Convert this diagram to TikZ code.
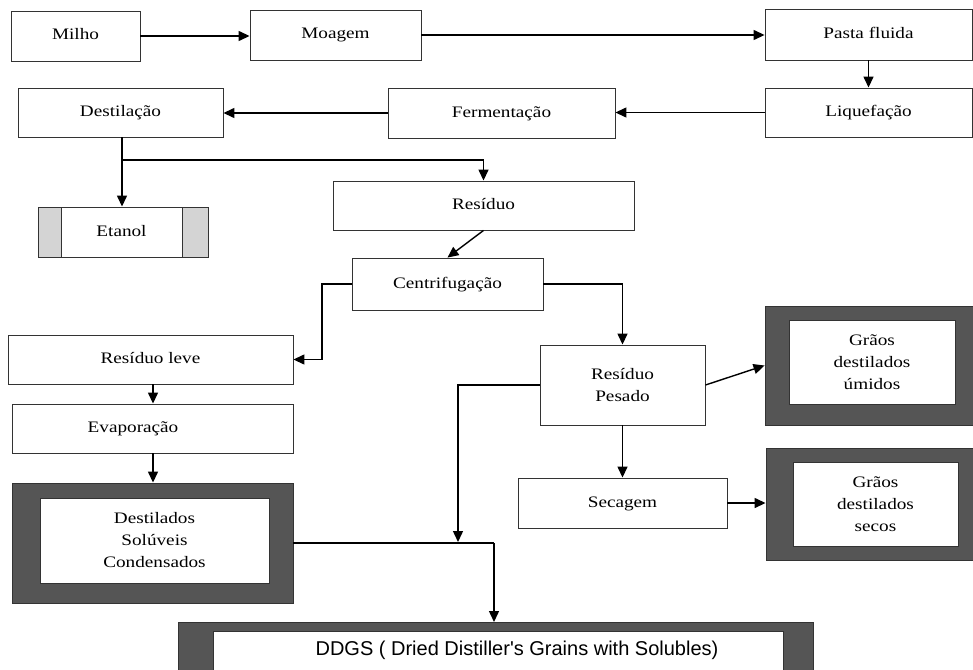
\documentclass[tikz,border=0pt]{standalone}
\usepackage{fontspec}
\setmainfont{Liberation Serif}[FakeStretch=1.2]
\newfontfamily\ddgsfont{Liberation Sans}
\usetikzlibrary{arrows.meta,calc}
\definecolor{darkbox}{HTML}{555555}
\definecolor{lightbox}{HTML}{D4D4D4}
\begin{document}
\begin{tikzpicture}[x=1pt,y=-1pt,
  box/.style={draw=black!80, line width=0.9pt, fill=white, inner sep=0pt, align=center,
    font=\fontsize{16}{22}\selectfont},
  oneline/.style={text height=11pt, text depth=3pt},
  darkframe/.style={draw=black!80, line width=0.9pt, fill=darkbox, inner sep=0pt},
  lightframe/.style={draw=black!80, line width=0.9pt, fill=lightbox, inner sep=0pt},
  arr/.style={line width=1.4pt, -{Triangle[length=11pt,width=10pt]}},
  plain/.style={line width=1.4pt}]
\useasboundingbox (0,0) rectangle (973,669);
\clip (0,0) rectangle (973,669);
\fill[white] (0,0) rectangle (973,669);

% top row
\node[box, oneline, minimum width=129pt, minimum height=50pt] (milho) at (75.5,36) {Milho};
\node[box, oneline, minimum width=171pt, minimum height=50pt] (moagem) at (335.5,35) {Moagem};
\node[box, oneline, minimum width=207pt, minimum height=51pt] (pasta) at (868.5,34.5) {Pasta fluida};
\node[box, oneline, minimum width=207pt, minimum height=49pt] (liq) at (868.5,112.5) {Liquefação};
\node[box, oneline, minimum width=227pt, minimum height=50pt] (ferm) at (501.5,113) {Fermentação};
\node[box, oneline, minimum width=205pt, minimum height=49pt] (dest) at (120.5,112.5) {Destilação};

% Etanol
\node[lightframe, minimum width=170pt, minimum height=50pt] (etanol) at (123,232) {};
\node[box, oneline, minimum width=121pt, minimum height=50pt] (etanolin) at (121.5,232) {Etanol};

% middle
\node[box, oneline, minimum width=301pt, minimum height=49pt] (res) at (483.5,205.5) {Resíduo};
\node[box, oneline, minimum width=191pt, minimum height=52pt] (centr) at (447.5,284) {Centrifugação};
\node[box, oneline, minimum width=285pt, minimum height=49pt] (resleve) at (150.5,359.5) {Resíduo leve};
\node[box, minimum width=281pt, minimum height=49pt] (evap) at (152.5,428.5) {};
\node[font=\fontsize{16}{22}\selectfont, oneline, inner sep=0pt] (evaptxt) at (133,428.5) {Evaporação};

% Destilados solúveis condensados
\node[darkframe, minimum width=281pt, minimum height=120pt] (destsol) at (152.5,543) {};
\node[box, minimum width=229pt, minimum height=85pt] (destsolin) at (154.5,540.5) {Destilados\\Solúveis\\Condensados};

% right side
\node[box, minimum width=165pt, minimum height=80pt] (pesado) at (622.5,385) {Resíduo\\Pesado};
\node[box, oneline, minimum width=209pt, minimum height=50pt] (secagem) at (622.5,503) {Secagem};

\node[darkframe, minimum width=210pt, minimum height=119pt] (umidos) at (870,365.5) {};
\node[box, minimum width=166pt, minimum height=84pt] (umidosin) at (872,362) {Grãos\\destilados\\úmidos};

\node[darkframe, minimum width=209pt, minimum height=112pt] (secos) at (870.5,504) {};
\node[box, minimum width=165pt, minimum height=84pt] (secosin) at (875.5,504) {Grãos\\destilados\\secos};

% DDGS
\node[darkframe, minimum width=635pt, minimum height=60pt, anchor=north west] (ddgs) at (178,622) {};
\node[box, minimum width=570pt, minimum height=50pt, anchor=north west] (ddgsin) at (213,631) {};
\node[font=\ddgsfont\fontsize{20}{24}\selectfont, inner sep=0pt] (ddgstxt) at (517,650) {DDGS ( Dried Distiller's Grains with Solubles)};

% connectors
\draw[arr] (milho.east) -- (milho.east -| moagem.west);
\draw[arr] (moagem.east) -- (moagem.east -| pasta.west);
\draw[arr] (pasta.south) -- (liq.north);
\draw[arr] (liq.west) -- (liq.west -| ferm.east);
\draw[arr] (ferm.west) -- (ferm.west -| dest.east);

\coordinate (j1) at (122,160);
\draw[plain] (dest.south -| j1) -- (j1);
\draw[arr] (j1) -- (etanol.north -| j1);
\draw[arr] (j1) -| (res.north);

\draw[arr] (res.south) -- (centr.north);
\coordinate (c1) at (322,284);
\draw[arr] (centr.west) -- (c1) |- (resleve.east);
\coordinate (ev) at (153,0);
\draw[arr] (resleve.south -| ev) -- (evap.north -| ev);
\draw[arr] (evap.south -| ev) -- (destsol.north -| ev);

\coordinate (d1) at (494,543);
\draw[plain] (destsol.east) -- (d1);
\draw[arr] (d1) -- (ddgs.north -| d1);

\draw[arr] (centr.east) -| (pesado.north);
\coordinate (m1) at (458,542);
\draw[arr] (pesado.west) -| (m1);
\draw[arr] (pesado.east) -- (umidos.west);
\draw[arr] (pesado.south) -- (secagem.north);
\draw[arr] (secagem.east) -- (secagem.east -| secos.west);
\end{tikzpicture}
\end{document}
